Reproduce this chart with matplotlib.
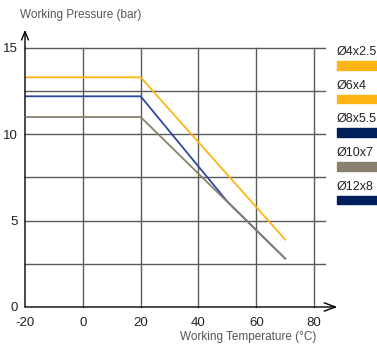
import matplotlib.pyplot as plt
from matplotlib.patches import Rectangle

plt.rcParams['font.family'] = ['Liberation Sans', 'DejaVu Sans']
plt.rcParams['axes.unicode_minus'] = False

# data
temp_yellow = [-20, 20, 70]
pres_yellow = [13.3, 13.3, 3.9]
temp_blue = [-20, 20, 50, 70]
pres_blue = [12.2, 12.2, 6.1, 2.8]
temp_gray = [-20, 20, 70]
pres_gray = [11.0, 11.0, 2.8]

legend_names = ['Ø4x2.5', 'Ø6x4', 'Ø8x5.5', 'Ø10x7', 'Ø12x8']
legend_colors = ['#fdb515', '#fdb515', '#00205b', '#8b8070', '#00205b']

xticks = [-20, 0, 20, 40, 60, 80]
yticks = [0, 5, 10, 15]

fig = plt.figure(figsize=(3.77, 3.44), dpi=100)
ax = fig.add_axes([0.0663, 0.1076, 0.767, 0.753])
ax.set_xlim(-20, 80)
ax.set_ylim(0, 15)

# grid
for y in [2.5, 5, 7.5, 10, 12.5, 15]:
    ax.plot([-20, 83.8], [y, y], color='#5a5a5a', lw=1, clip_on=False, zorder=1)
for x in [0, 20, 40, 60, 80]:
    ax.plot([x, x], [0, 15], color='#5a5a5a', lw=1, clip_on=False, zorder=1)

ax.plot(temp_yellow, pres_yellow, color='#fdb515', lw=1.3, zorder=3)
ax.plot(temp_blue, pres_blue, color='#2e4a9e', lw=1.3, zorder=3)
ax.plot(temp_gray, pres_gray, color='#8b8070', lw=1.3, zorder=4)

for s in ['top', 'right', 'left', 'bottom']:
    ax.spines[s].set_visible(False)

# axis arrows
ax.annotate('', xy=(88, 0), xytext=(-20, 0), annotation_clip=False,
            arrowprops=dict(arrowstyle='->,head_length=0.8,head_width=0.3',
                            lw=1, color='black', shrinkA=0, shrinkB=0))
ax.annotate('', xy=(-20, 16.05), xytext=(-20, 0), annotation_clip=False,
            arrowprops=dict(arrowstyle='->,head_length=0.6,head_width=0.25',
                            lw=1, color='black', shrinkA=0, shrinkB=0))

ax.set_xticks(xticks)
ax.set_yticks(yticks)
ax.tick_params(axis='x', length=0, labelsize=9.5, colors='#222222', pad=7)
ax.tick_params(axis='y', length=0, labelsize=9.5, colors='#222222', pad=5)

fig.text(20 / 377, 1 - 15 / 344, 'Working Pressure (bar)', fontsize=8.5,
         color='#555555', va='center', ha='left')
fig.text(316 / 377, 1 - 337 / 344, 'Working Temperature (°C)', fontsize=8.5,
         color='#555555', va='center', ha='right')

# legend on the right
for i, (name, c) in enumerate(zip(legend_names, legend_colors)):
    ty = 52 + i * 33.7
    fig.text(337 / 377, 1 - ty / 344, name, fontsize=9, color='#222222',
             va='center', ha='left')
    by = 61 + i * 33.7
    fig.patches.append(Rectangle((337 / 377, 1 - (by + 8.5) / 344), 45 / 377, 8.5 / 344,
                                 transform=fig.transFigure, color=c))

fig.savefig('out.png', dpi=100)
